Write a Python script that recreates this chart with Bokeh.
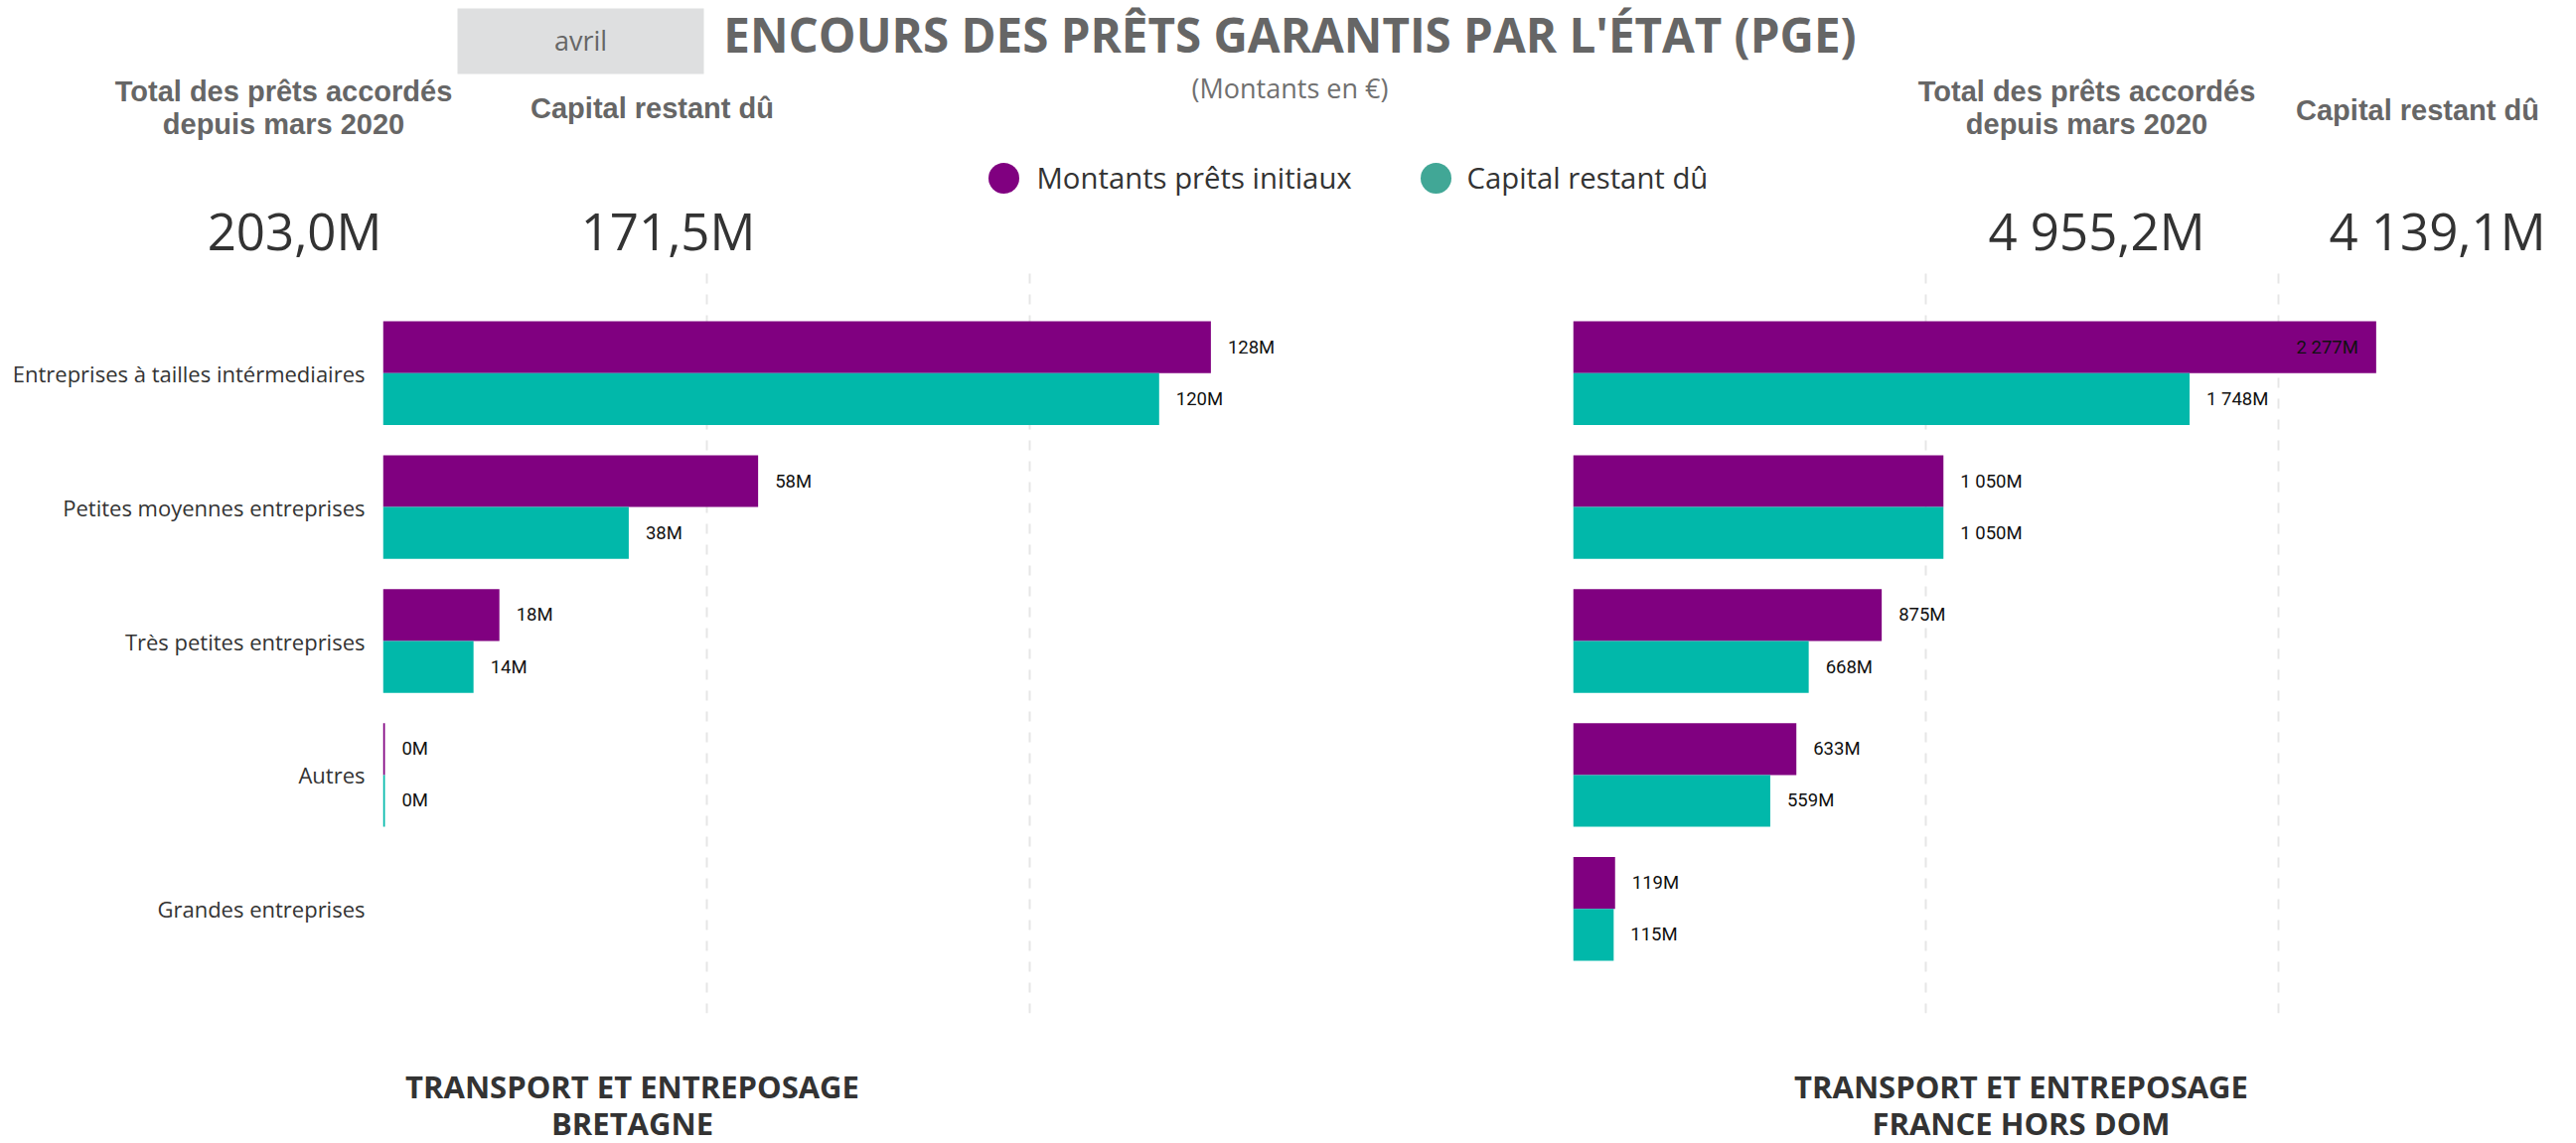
from bokeh.plotting import figure
from bokeh.models import Range1d, FactorRange, ColumnDataSource, Grid, FixedTicker
from bokeh.layouts import column, row
from bokeh.transform import dodge
from bokeh.core.properties import value
from bokeh.embed import file_html
from bokeh.resources import INLINE

# ---------------- data ----------------
categories = ["Entreprises à tailles intérmediaires", "Petites moyennes entreprises",
              "Très petites entreprises", "Autres", "Grandes entreprises"]
left_initial = [128, 58, 18, 0.3, None]
left_restant = [120, 38, 14, 0.3, None]
right_initial = [2277, 1050, 875, 633, 119]
right_restant = [1748, 1050, 668, 559, 115]

left_ticks = [0, 50, 100]
right_ticks = [0, 1000, 2000]

series_names = ["Montants prêts initiaux", "Capital restant dû"]
series_colors = ["#800080", "#01B8AA"]
legend_colors = ["#800080", "#41A796"]

title_text = "ENCOURS DES PRÊTS GARANTIS PAR L'ÉTAT (PGE)"
subtitle_text = "(Montants en €)"
month_text = "avril"
kpi_label_total = ["Total des prêts accordés", "depuis mars 2020"]
kpi_label_capital = "Capital restant dû"
left_kpis = ["203,0M", "171,5M"]
right_kpis = ["4 955,2M", "4 139,1M"]
left_footer = ["TRANSPORT ET ENTREPOSAGE", "BRETAGNE"]
right_footer = ["TRANSPORT ET ENTREPOSAGE", "FRANCE HORS DOM"]

W = 2593


def canvas(width, height):
    f = figure(width=width, height=height, x_range=Range1d(0, width), y_range=Range1d(height, 0),
               output_backend="svg", toolbar_location=None, title=None,
               x_axis_location=None, y_axis_location=None, min_border=0,
               outline_line_color=None)
    f.grid.visible = False
    return f


# ---------------- header ----------------
HH = 270
header = canvas(W, HH)
header.quad(left=[460], right=[708], top=[8], bottom=[74], fill_color="#DEDFE0", line_color=None)
header.text(x=[584], y=[40], text=[month_text], text_align="center", text_baseline="middle",
            text_font=value("Open Sans"), text_font_size="27px", text_color="#666666")
header.text(x=[1298], y=[34], text=[title_text], text_align="center", text_baseline="middle",
            text_font=value("Open Sans"), text_font_style="bold", text_font_size="47.5px",
            text_color="#666666")
header.text(x=[1298], y=[88], text=[subtitle_text], text_align="center", text_baseline="middle",
            text_font=value("Open Sans"), text_font_size="27px", text_color="#707070")

# legend
header.scatter(x=[1010, 1445], y=[179, 179], marker="circle", size=31,
               fill_color=legend_colors, line_color=None)
header.text(x=[1043, 1476], y=[178, 178], text=series_names, text_align="left",
            text_baseline="middle", text_font=value("Open Sans"), text_font_size="29.3px",
            text_color="#333333")

# KPIs
for cx_total, cx_cap, cy_cap in [(285, 656, 108), (2100, 2433, 110)]:
    header.text(x=[cx_total, cx_total], y=[91, 124], text=kpi_label_total, text_align="center",
                text_baseline="middle", text_font=value("Liberation Sans"),
                text_font_style="bold", text_font_size="29px", text_color="#666666")
    header.text(x=[cx_cap], y=[cy_cap], text=[kpi_label_capital], text_align="center",
                text_baseline="middle", text_font=value("Liberation Sans"),
                text_font_style="bold", text_font_size="29px", text_color="#666666")
header.text(x=[296, 672, 2110, 2453], y=[231] * 4, text=left_kpis + right_kpis,
            text_align="center", text_baseline="middle", text_font=value("Open Sans"),
            text_font_size="51px", text_color="#333333")

# ---------------- bar charts ----------------
CH = 760
factors = categories[::-1]


def fmt(v):
    return "{:,}".format(int(round(v))).replace(",", " ") + "M"


def make_chart(width, border_left, frame_w, x_end, ticks, initial, restant, show_labels):
    p = figure(width=width, height=CH,
               y_range=FactorRange(*factors, range_padding=0.28, range_padding_units="absolute"),
               x_range=Range1d(0, x_end), output_backend="svg", toolbar_location=None,
               title=None, x_axis_location=None,
               y_axis_location="left" if show_labels else None,
               min_border_left=border_left, min_border_right=width - border_left - frame_w,
               min_border_top=0, min_border_bottom=10, outline_line_color=None)
    p.grid.visible = False
    p.add_layout(Grid(dimension=0, ticker=FixedTicker(ticks=ticks), grid_line_color="#E6E6E6",
                      grid_line_width=2, grid_line_dash="10 11"))
    if show_labels:
        ax = p.yaxis[0]
        ax.axis_line_color = None
        ax.major_tick_line_color = None
        ax.minor_tick_line_color = None
        ax.major_tick_out = 0
        ax.major_label_standoff = 18
        ax.major_label_text_font = "Open Sans"
        ax.major_label_text_font_size = "22px"
        ax.major_label_text_color = "#333333"

    for vals, offs, color in [(initial, 0.1935, series_colors[0]),
                              (restant, -0.1935, series_colors[1])]:
        cats = [c for c, v in zip(categories, vals) if v is not None]
        vv = [v for v in vals if v is not None]
        src = ColumnDataSource(dict(cat=cats, v=vv))
        p.hbar(y=dodge("cat", offs, range=p.y_range), right="v", left=0, height=0.387,
               source=src, fill_color=color, line_color=None)
        out_c, out_v, in_c, in_v = [], [], [], []
        for c, v in zip(cats, vv):
            # label goes inside the bar when it would not fit after its end
            if v / x_end * frame_w + 17 + 10 * len(fmt(v)) > frame_w:
                in_c.append(c); in_v.append(v)
            else:
                out_c.append(c); out_v.append(v)
        for cs, vs, off, align in [(out_c, out_v, 17, "left"), (in_c, in_v, -18, "right")]:
            if not cs:
                continue
            s = ColumnDataSource(dict(cat=cs, v=vs, t=[fmt(v) for v in vs]))
            p.text(x="v", y=dodge("cat", offs, range=p.y_range), text="t", source=s,
                   x_offset=off, text_align=align, text_baseline="middle",
                   text_font=value("Roboto"), text_font_size="18.5px", text_color="#111111")
    return p


left = make_chart(1298, 385, 905, 139, left_ticks, left_initial, left_restant, True)
right = make_chart(W - 1298, 285, 857, 2414, right_ticks, right_initial, right_restant, False)

# ---------------- footer ----------------
FH = 1151 - HH - CH
footer = canvas(W, FH)
for cx, lines in [(636, left_footer), (2034, right_footer)]:
    footer.text(x=[cx, cx], y=[63, 100], text=lines, text_align="center",
                text_baseline="middle", text_font=value("Open Sans"),
                text_font_style="bold", text_font_size="31px", text_color="#333333")

layout = column(header, row(left, right, spacing=0), footer, spacing=0)
open("out.html", "w").write(file_html(layout, INLINE))
